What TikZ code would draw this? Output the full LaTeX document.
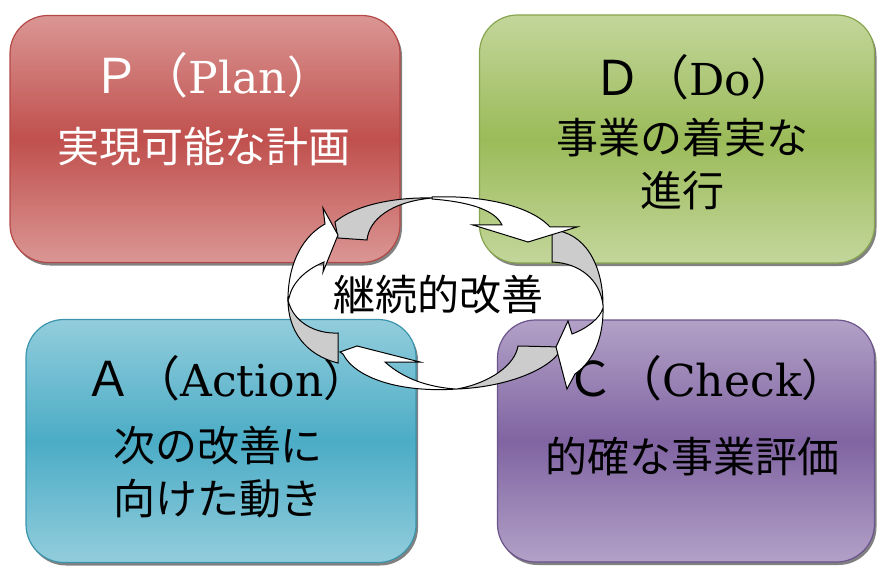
\documentclass[tikz,border=0pt]{standalone}
\usepackage{fontspec}
\setmainfont{DejaVu Serif}
\newfontfamily\jp{Noto Sans CJK JP}
\usetikzlibrary{shadows}

\definecolor{rougeClair}{RGB}{218,150,148}
\definecolor{rougeFonce}{RGB}{192,80,77}
\definecolor{rougeBord}{RGB}{180,72,70}
\definecolor{vertClair}{RGB}{195,214,155}
\definecolor{vertFonce}{RGB}{155,187,89}
\definecolor{vertBord}{RGB}{135,165,78}
\definecolor{bleuClair}{RGB}{146,205,220}
\definecolor{bleuFonce}{RGB}{75,172,198}
\definecolor{bleuBord}{RGB}{58,148,172}
\definecolor{violetClair}{RGB}{178,161,199}
\definecolor{violetFonce}{RGB}{128,100,162}
\definecolor{violetBord}{RGB}{108,84,140}

\newcommand{\Lettre}[1]{{\jp\fontsize{48}{50}\selectfont #1（}}
\newcommand{\Ferme}{{\jp\fontsize{44}{50}\selectfont ）}}

\begin{document}
\begin{tikzpicture}[x=1pt,y=-1pt]
		\tikzstyle{boite}=[draw,line width=1.2pt,rounded corners=38pt,drop shadow={shadow xshift=2pt,shadow yshift=-3pt,opacity=0.7,fill=black!70}]
		\tikzstyle{titre}=[font={\fontsize{44}{50}\selectfont}]
		\tikzstyle{texte}=[font={\jp\fontsize{42}{53}\selectfont},align=center]
		\tikzstyle{fleche}=[fill=white,draw=black,line width=1pt,line join=miter]
		\tikzstyle{envers}=[fill=black!20,draw=black,line width=1pt,line join=miter]
		
		\useasboundingbox (0,0) rectangle (879,567);
		
		% les quatre boites
		\node[boite,draw=rougeBord,top color=rougeClair,bottom color=rougeClair,middle color=rougeFonce,minimum width=390pt,minimum height=247pt] (P) at (205,139) {};
		\node[boite,draw=vertBord,top color=vertClair,bottom color=vertClair,middle color=vertFonce,minimum width=395pt,minimum height=248pt] (D) at (677,139) {};
		\node[boite,draw=bleuBord,top color=bleuClair,bottom color=bleuClair,middle color=bleuFonce,minimum width=390pt,minimum height=243pt] (A) at (221,441) {};
		\node[boite,draw=violetBord,top color=violetClair,bottom color=violetClair,middle color=violetFonce,minimum width=377pt,minimum height=242pt] (C) at (686,441) {};
		
		\node[titre,text=white] (Ptitre) at (212,75) {\Lettre{Ｐ}Plan\Ferme};
		\node[texte,text=white] (Ptexte) at (204,147) {実現可能な計画};
		\node[titre] (Dtitre) at (694,77) {\Lettre{Ｄ}Do\Ferme};
		\node[texte] (Dtexte) at (682,164) {事業の着実な\\進行};
		\node[titre] (Atitre) at (226,378) {\Lettre{Ａ}Action\Ferme};
		\node[texte] (Atexte) at (218,472) {次の改善に\\向けた動き};
		\node[titre] (Ctitre) at (706,378) {\Lettre{Ｃ}Check\Ferme};
		\node[texte] (Ctexte) at (692,457) {的確な事業評価};
		
		% le cycle : envers gris
		\filldraw[envers] (338,238) -- (367,240) .. controls (369,220) and (390,202) .. (432,198) .. controls (395,197) and (355,205) .. (335,222) -- cycle;
		\filldraw[envers] (552,230) -- (552,262) .. controls (580,263) and (600,280) .. (603,305) .. controls (603,265) and (585,232) .. cycle;
		\filldraw[envers] (562,347) -- (518,346) .. controls (515,365) and (490,383) .. (457,389) .. controls (510,387) and (555,367) .. cycle;
		\filldraw[envers] (338,363) -- (338,333) .. controls (315,334) and (293,322) .. (288,300) .. controls (288,330) and (305,355) .. cycle;
		
		% le cycle : endroit blanc
		\filldraw[fleche] (432,197) .. controls (480,195) and (530,205) .. (550,227) -- (577,227) -- (528,242) -- (473,225) -- (502,225) .. controls (495,210) and (470,202) .. (432,199) -- cycle;
		\filldraw[fleche] (603,305) .. controls (604,335) and (595,360) .. (575,374) -- (567,389) -- (556,347) -- (568,321) -- (572,334) .. controls (588,328) and (600,318) .. (603,308) -- cycle;
		\filldraw[fleche] (457,389) .. controls (400,393) and (355,378) .. (343,354) -- (340,352) -- (357,346) -- (420,362) -- (385,362) .. controls (405,380) and (430,387) .. (455,389) -- cycle;
		\filldraw[fleche] (288,300) .. controls (288,260) and (305,235) .. (325,224) -- (323,208) -- (338,235) -- (323,272) -- (324,262) .. controls (305,270) and (292,283) .. (289,298) -- cycle;
		
		\node[texte] (Centre) at (438,295) {継続的改善};
	\end{tikzpicture}
\end{document}
